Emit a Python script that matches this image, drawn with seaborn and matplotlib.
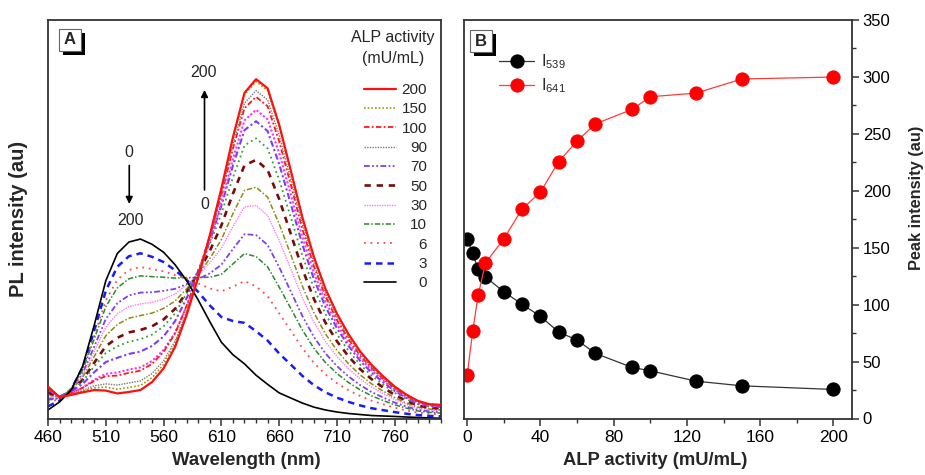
import numpy as np
import pandas as pd
import matplotlib
matplotlib.use("Agg")
import matplotlib.pyplot as plt
from matplotlib.lines import Line2D
from matplotlib.patches import Rectangle
from matplotlib.ticker import MultipleLocator, FixedLocator
import seaborn as sns

# ---------------- data ----------------
wavelength = [460, 470, 480, 490, 500, 510, 520, 530, 540, 550, 560, 570, 580, 590, 600,
              610, 620, 630, 640, 650, 660, 670, 680, 690, 700, 710, 720, 730, 740, 750,
              760, 770, 780, 790, 800]

pl_0 = [7.5, 14.5, 25, 46, 82, 121, 145, 155, 157.6, 153, 146, 135, 121, 104, 85, 67, 56, 48, 38, 30,
        22.5, 18, 13.6, 10, 7.5, 5.7, 4.4, 3.5, 2.6, 2.2, 1.8, 1.3, 0.9, 0.5, 0.2]
pl_3 = [10.7, 15.7, 25.5, 44.6, 77.2, 112.2, 133.3, 142.5, 145.1, 142.0, 137.4, 130.2, 121.7, 111.1, 99.3,
        89.1, 85.6, 84.0, 76.7, 68.4, 57.1, 47.4, 37.5, 29.3, 23.0, 18.3, 14.6, 11.5, 9.0, 7.3,
        5.6, 4.2, 3.0, 2.3, 1.9]
pl_6 = [14.1, 17.0, 26.0, 43.3, 72.6, 103.7, 122.0, 130.4, 133.0, 131.3, 129.2, 125.8, 122.8, 118.7, 114.2,
        111.7, 115.8, 120.7, 116.1, 107.4, 92.3, 77.2, 61.9, 48.9, 38.8, 31.0, 24.8, 19.8, 15.6, 12.5,
        9.5, 7.0, 5.2, 4.1, 3.7]
pl_10 = [16.2, 17.7, 26.3, 42.6, 69.8, 98.2, 114.8, 122.7, 125.3, 124.6, 124.1, 123.3, 123.7, 123.8, 124.1,
         126.6, 135.8, 144.9, 142.2, 133.2, 115.4, 96.8, 77.9, 61.7, 49.2, 39.5, 31.6, 25.2, 19.9, 15.8,
         12.0, 9.1, 6.6, 5.4, 4.7]
pl_20 = [17.6, 17.7, 25.2, 39.5, 63.1, 87.4, 101.3, 108.1, 110.6, 110.9, 112.1, 113.9, 118.0, 122.5, 127.5,
         135.1, 148.9, 161.9, 161.1, 152.4, 132.9, 111.7, 90.1, 71.7, 57.2, 46.0, 36.9, 29.4, 23.2, 18.4,
         14.0, 10.5, 7.7, 6.3, 5.6]
pl_30 = [19.7, 18.4, 25.3, 38.1, 59.0, 80.3, 92.1, 98.3, 100.7, 102.0, 104.9, 109.4, 117.4, 126.5, 136.6,
         149.6, 168.6, 185.9, 187.1, 178.2, 156.3, 131.5, 106.2, 84.7, 67.7, 54.4, 43.7, 34.8, 27.6, 21.8,
         16.6, 12.4, 9.1, 7.6, 6.8]
pl_40 = [21.0, 18.4, 24.8, 36.2, 54.5, 72.7, 82.6, 88.1, 90.4, 92.6, 96.7, 103.2, 114.0, 126.4, 140.4,
         157.2, 180.0, 200.4, 203.1, 194.4, 170.9, 144.0, 116.4, 93.0, 74.4, 59.8, 48.0, 38.3, 30.4, 24.0,
         18.3, 13.6, 10.0, 8.3, 7.6]
pl_50 = [22.9, 18.8, 24.3, 33.9, 49.0, 63.5, 70.9, 75.6, 77.8, 81.0, 87.0, 96.4, 110.9, 128.1, 147.2,
         169.6, 197.5, 222.4, 227.1, 218.3, 192.7, 162.3, 131.5, 105.1, 84.2, 67.8, 54.5, 43.4, 34.5, 27.2,
         20.7, 15.5, 11.4, 9.5, 8.7]
pl_60 = [24.4, 19.2, 24.2, 32.7, 45.7, 57.6, 63.4, 67.5, 69.7, 73.7, 80.9, 92.4, 109.9, 130.4, 153.4,
         179.9, 211.7, 239.8, 246.1, 237.2, 209.7, 176.9, 143.3, 114.7, 91.9, 74.0, 59.5, 47.4, 37.7, 29.8,
         22.6, 16.9, 12.5, 10.4, 9.5]
pl_70 = [25.5, 19.2, 23.5, 30.4, 40.7, 49.6, 53.3, 56.7, 58.8, 63.7, 72.1, 85.6, 105.8, 129.7, 156.4,
         186.8, 222.2, 253.3, 261.1, 252.4, 223.5, 188.6, 153.0, 122.5, 98.2, 79.2, 63.7, 50.7, 40.3, 31.8,
         24.1, 18.1, 13.3, 11.1, 10.1]
pl_90 = [26.1, 18.7, 22.0, 27.1, 34.1, 39.2, 40.4, 43.0, 44.9, 50.5, 60.2, 75.5, 98.5, 125.4, 155.7,
         189.6, 228.1, 261.8, 271.1, 262.7, 233.1, 196.9, 159.7, 128.0, 102.7, 82.8, 66.5, 53.1, 42.3, 33.3,
         25.3, 18.9, 13.9, 11.7, 10.7]
pl_100 = [27.0, 19.1, 22.3, 27.0, 33.0, 37.2, 37.7, 40.1, 42.0, 48.0, 58.4, 74.8, 99.2, 128.0, 160.3,
          196.4, 237.1, 272.5, 282.5, 274.2, 243.4, 205.5, 166.7, 133.7, 107.3, 86.5, 69.5, 55.4, 44.2, 34.8,
          26.3, 19.8, 14.6, 12.2, 11.2]
pl_125 = [27.3, 18.6, 21.3, 24.7, 28.7, 30.4, 29.4, 31.2, 33.0, 39.5, 50.6, 68.1, 94.2, 124.8, 159.3,
          197.6, 240.1, 277.0, 288.0, 279.9, 248.8, 210.1, 170.6, 136.8, 109.7, 88.5, 71.3, 56.8, 45.2, 35.6,
          27.0, 20.2, 15.0, 12.5, 11.5]
pl_150 = [27.9, 18.8, 21.2, 24.0, 26.9, 27.6, 25.7, 27.3, 29.0, 35.8, 47.5, 66.0, 93.4, 125.5, 161.7,
          201.8, 246.0, 284.4, 296.0, 287.9, 256.0, 216.3, 175.6, 140.9, 113.0, 91.3, 73.4, 58.5, 46.6, 36.7,
          27.7, 20.8, 15.3, 12.9, 11.9]
pl_200 = [28, 18.6, 20.7, 23, 25, 24.5, 22, 23.3, 25, 32, 44, 63, 91, 124, 161, 202, 247, 286, 298, 290,
          258, 218, 177, 142, 114, 92, 74, 59, 47, 37, 28, 21, 15.5, 12.5, 12]

spectra_conc = [0, 3, 6, 10, 20, 30, 40, 50, 60, 70, 90, 100, 125, 150, 200]
spectra = [pl_0, pl_3, pl_6, pl_10, pl_20, pl_30, pl_40, pl_50, pl_60, pl_70, pl_90, pl_100,
           pl_125, pl_150, pl_200]

alp_activity = [0, 3, 6, 10, 20, 30, 40, 50, 60, 70, 90, 100, 125, 150, 200]
i539 = [157.7, 145.1, 131.0, 124.3, 111.3, 100.3, 89.7, 75.9, 68.9, 57.2, 44.9, 41.9, 32.8, 28.7, 25.5]
i641 = [37.8, 76.5, 108.2, 136.6, 157.7, 184.1, 198.8, 225.7, 243.6, 258.8, 271.4, 282.6, 285.8, 298.2, 299.9]

wl_ticks = [460, 510, 560, 610, 660, 710, 760]
legend_labels = ["200", "150", "100", "90", "70", "50", "30", "10", "6", "3", "0"]

# ---------------- styles ----------------
DD = (0, (3.2, 1.3, 1.0, 1.3, 1.0, 1.3))
styles = {
    0:   dict(color="#000000", ls="-", lw=1.2),
    3:   dict(color="#1a1aff", ls=(0, (2.6, 2.0)), lw=1.8),
    6:   dict(color="#ff4a4a", ls=(0, (1.0, 2.6)), lw=1.3),
    10:  dict(color="#2a8a2a", ls=(0, (3.5, 1.3, 1.0, 1.3)), lw=1.1),
    20:  dict(color="#7f3fef", ls=DD, lw=1.3),
    30:  dict(color="#ff7aff", ls=(0, (1.0, 0.8)), lw=1.0),
    40:  dict(color="#8c8c10", ls=(0, (3.5, 1.3, 1.0, 1.3)), lw=1.1),
    50:  dict(color="#7a0a0a", ls=(0, (2.4, 2.2)), lw=1.9),
    60:  dict(color="#33a033", ls=(0, (1.0, 1.8)), lw=1.3),
    70:  dict(color="#7a3cff", ls=(0, (3.0, 1.3, 1.0, 1.3)), lw=1.5),
    90:  dict(color="#ff2cff", ls=(0, (1.0, 1.0)), lw=1.5),
    100: dict(color="#ff1a1a", ls=(0, (3.0, 1.3, 1.0, 1.3)), lw=1.3),
    125: dict(color="#7a7a7a", ls=(0, (1.0, 0.9)), lw=1.0),
    150: dict(color="#9a9a10", ls=(0, (1.0, 1.2)), lw=1.2),
    200: dict(color="#ff1010", ls="-", lw=1.6),
}
legend_styles = {
    "200": styles[200], "150": styles[150], "100": styles[100], "90": styles[125],
    "70": styles[20], "50": styles[50], "30": styles[30], "10": styles[10],
    "6": styles[6], "3": styles[3], "0": styles[0],
}

# ---------------- theme ----------------
sns.set_theme(style="ticks")
plt.rcParams["font.family"] = ["Liberation Sans", "DejaVu Sans"]
plt.rcParams["mathtext.default"] = "regular"
plt.rcParams["axes.edgecolor"] = "#333333"
plt.rcParams["axes.linewidth"] = 1.3

fig = plt.figure(figsize=(9.25, 4.75), dpi=100)
W, H = 925.0, 475.0
axA = fig.add_axes([48 / W, (475 - 418.5) / H, (441 - 48) / W, (418.5 - 20) / H])
axB = fig.add_axes([463.5 / W, (475 - 418.5) / H, (851.7 - 463.5) / W, (418.5 - 20) / H])

# ---------------- panel A ----------------
df = pd.DataFrame({"wavelength": np.tile(wavelength, len(spectra_conc)),
                   "intensity": np.concatenate(spectra),
                   "conc": np.repeat(spectra_conc, len(wavelength))})
for c in spectra_conc:
    st = styles[c]
    sub = df[df["conc"] == c]
    z = 3 if c == 200 else (2.5 if c == 0 else 2)
    sns.lineplot(data=sub, x="wavelength", y="intensity", ax=axA, color=st["color"],
                 linestyle=st["ls"], linewidth=st["lw"], zorder=z, legend=False)

axA.set_xlim(460, 800)
axA.set_ylim(0, 350)
axA.set_yticks([])
axA.xaxis.set_major_locator(FixedLocator(wl_ticks))
axA.xaxis.set_minor_locator(MultipleLocator(10))
axA.tick_params(axis="x", which="major", direction="out", length=5, width=1.1,
                labelsize=12.5, pad=3, colors="#333333", labelcolor="black")
axA.tick_params(axis="x", which="minor", direction="out", length=3, width=1.0, colors="#333333")
axA.set_xlabel("Wavelength (nm)", fontsize=13.4, fontweight="bold")
axA.set_ylabel("PL intensity (au)", fontsize=14.5, fontweight="bold")
axA.xaxis.set_label_coords(0.505, -0.085)
axA.yaxis.set_label_coords(-0.05, 0.5)
for s in axA.spines.values():
    s.set_visible(True)

# arrows / annotations
axA.text(530.3, 233.8, "0", ha="center", va="center", fontsize=11.5)
axA.annotate("", xy=(530.3, 186), xytext=(530.3, 224.7),
             arrowprops=dict(arrowstyle="-|>", color="black", lw=1.2, mutation_scale=10))
axA.text(531.7, 173.7, "200", ha="center", va="center", fontsize=11.5)
axA.text(594.2, 304, "200", ha="center", va="center", fontsize=11.5)
axA.annotate("", xy=(595.4, 291), xytext=(595.4, 198.3),
             arrowprops=dict(arrowstyle="-|>", color="black", lw=1.2, mutation_scale=10))
axA.text(595.7, 187.8, "0", ha="center", va="center", fontsize=11.5)

# legend A (labels right-aligned)
handles = [Line2D([0], [0], color=legend_styles[l]["color"], linestyle=legend_styles[l]["ls"],
                  linewidth=legend_styles[l]["lw"]) for l in legend_labels]
legA = axA.legend(handles, legend_labels, loc="upper right", bbox_to_anchor=(0.98, 0.8575),
                  frameon=False, fontsize=11, handlelength=2.1, labelspacing=0.35,
                  handletextpad=0.35, borderaxespad=0.0)
fig.canvas.draw()
renderer = fig.canvas.get_renderer()
widths = [t.get_window_extent(renderer).width for t in legA.get_texts()]
maxw = max(widths)
for t, w in zip(legA.get_texts(), widths):
    t.set_position((maxw - w, 0))
axA.text(0.878, 0.93, "ALP activity\n(mU/mL)", transform=axA.transAxes, ha="center",
         va="center", fontsize=11.5, linespacing=1.45)


def panel_label(x0, y0, x1, y1, s):
    """Boxed panel letter with a black drop shadow (pixel coords from top-left)."""
    def fr(x, y):
        return x / W, 1 - y / H
    sx, sy = fr(x0 + 4, y1 + 4)
    fig.add_artist(Rectangle((sx, sy), (x1 - x0) / W, (y1 - y0) / H, transform=fig.transFigure,
                             facecolor="black", edgecolor="black", lw=0, zorder=10))
    bx, by = fr(x0, y1)
    fig.add_artist(Rectangle((bx, by), (x1 - x0) / W, (y1 - y0) / H, transform=fig.transFigure,
                             facecolor="white", edgecolor="#666666", lw=0.8, zorder=11))
    cx, cy = fr((x0 + x1) / 2, (y0 + y1) / 2)
    fig.text(cx, cy, s, ha="center", va="center", fontsize=12, fontweight="bold", zorder=12)


panel_label(59, 29, 81, 51, "A")

# ---------------- panel B ----------------
dfB = pd.DataFrame({"alp": alp_activity, "i539": i539, "i641": i641})
sns.lineplot(data=dfB, x="alp", y="i539", ax=axB, color="#333333", linewidth=0.9,
             marker="o", markersize=9.5, markerfacecolor="black", markeredgecolor="black",
             label="I$_{539}$")
sns.lineplot(data=dfB, x="alp", y="i641", ax=axB, color="#ff3b3b", linewidth=0.9,
             marker="o", markersize=9.5, markerfacecolor="#ff0000", markeredgecolor="#ff0000",
             label="I$_{641}$")
axB.set_xlim(-2, 210)
axB.set_ylim(0, 350)
axB.xaxis.set_major_locator(MultipleLocator(40))
axB.xaxis.set_minor_locator(MultipleLocator(20))
axB.yaxis.set_major_locator(MultipleLocator(50))
axB.yaxis.set_minor_locator(MultipleLocator(25))
axB.yaxis.tick_right()
axB.yaxis.set_label_position("right")
axB.tick_params(axis="both", which="major", direction="out", length=5, width=1.1,
                colors="#333333", labelcolor="black")
axB.tick_params(axis="x", which="major", labelsize=12.5, pad=3)
axB.tick_params(axis="y", which="major", labelsize=12, pad=3)
axB.tick_params(axis="both", which="minor", direction="out", length=3, width=1.0, colors="#333333")
axB.tick_params(axis="y", which="both", left=False, right=True)
axB.set_xlabel("ALP activity (mU/mL)", fontsize=13.2, fontweight="bold")
axB.set_ylabel("Peak intensity (au)", fontsize=11.8, fontweight="bold")
axB.xaxis.set_label_coords(0.493, -0.085)
axB.yaxis.set_label_coords(1.147, 0.555)
for s in axB.spines.values():
    s.set_visible(True)
axB.legend(loc="upper left", bbox_to_anchor=(0.075, 0.935), frameon=False, fontsize=11.5,
           handlelength=2.2, handletextpad=0.4, labelspacing=0.35, borderaxespad=0.0)
panel_label(470, 30, 492, 52, "B")

fig.savefig("out.png", dpi=100)
